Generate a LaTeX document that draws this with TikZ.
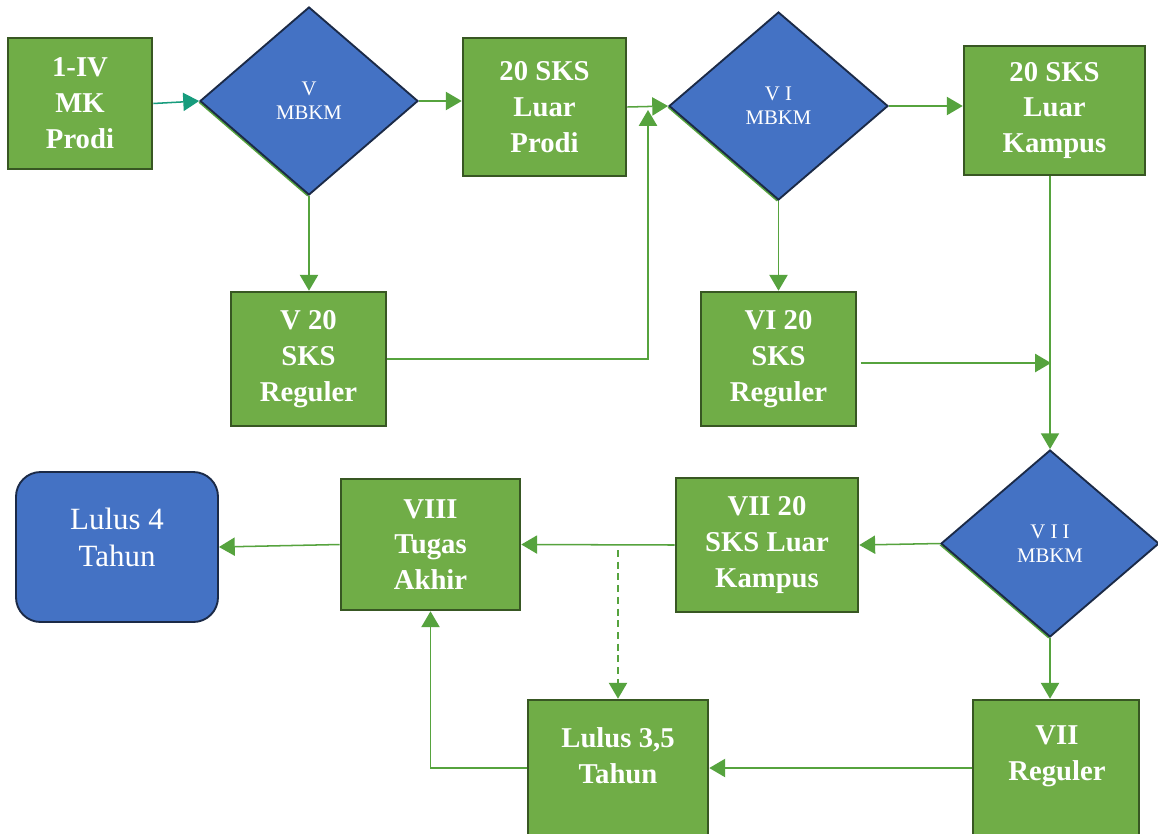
\documentclass[tikz,border=0pt]{standalone}
\usepackage{fontspec}
\setmainfont{Liberation Serif}
\usetikzlibrary{shapes.geometric,arrows.meta,shadows}
\definecolor{gfill}{HTML}{70AD47}
\definecolor{gline}{HTML}{385723}
\definecolor{bfill}{HTML}{4472C4}
\definecolor{bline}{HTML}{1B2A47}
\definecolor{lncol}{HTML}{56A33E}
\definecolor{tealcol}{HTML}{179C7D}
\tikzset{
  bsize/.style 2 args={minimum width=#1*0.03cm, minimum height=#2*0.03cm},
  gbox/.style={rectangle, draw=gline, line width=2.2pt, fill=gfill, text=white,
    font=\fontsize{24.5}{30.6}\selectfont\bfseries, align=center, inner sep=0pt},
  gtxt/.style={text=white, font=\fontsize{24.5}{30.6}\selectfont\bfseries, align=center, inner sep=0pt},
  dshape/.style={diamond, draw=bline, line width=1.6pt, fill=bfill, text=white,
    font=\fontsize{17.7}{20.4}\selectfont, align=center, inner sep=0pt,
    general shadow={fill=lncol, shadow xshift=-1.5pt, shadow yshift=-1.5pt}},
  lbox/.style={rectangle, rounded corners=21pt, draw=bline, line width=1.6pt, fill=bfill},
  ltxt/.style={text=white, font=\fontsize{26.4}{31.5}\selectfont, align=center, inner sep=0pt},
  conn/.style={draw=lncol, line width=1.3pt, -{Triangle[length=13.5pt,width=15.5pt]}},
}
\begin{document}
\begin{tikzpicture}[x=0.03cm,y=-0.03cm]
\clip (0,0) rectangle (1158,833);
\fill[white] (0,0) rectangle (1158,833);
% nodes
\node[gbox, bsize={144}{131}] (A) at (80,103.5) {1-IV\\MK\\Prodi};
\node[dshape, bsize={218}{188}] (D1) at (309,101) {V\\MBKM};
\node[gbox, bsize={163}{138}] (B) at (544.5,107) {20 SKS\\Luar\\Prodi};
\node[dshape, bsize={219}{188}] (D2) at (778.5,106) {V I\\MBKM};
\node[gbox, bsize={181}{129}] (C) at (1054.5,110.5) {20 SKS\\Luar\\Kampus};
\node[gbox, bsize={155}{134}] (E) at (308.5,359) {V 20\\SKS\\Reguler};
\node[gbox, bsize={155}{134}] (F) at (778.5,359) {VI 20\\SKS\\Reguler};
\node[dshape, bsize={218}{187}] (D3) at (1050,543.5) {V I I\\MBKM};
\node[gbox, bsize={182}{134}] (G) at (767,545) {VII 20\\SKS Luar\\Kampus};
\node[gbox, bsize={179}{131}] (H) at (430.5,544.5) {VIII\\Tugas\\Akhir};
\node[lbox, bsize={202}{150}] (I) at (117,547) {};
\node[ltxt] (It) at (117,537) {Lulus 4\\Tahun};
\node[gbox, bsize={180}{136}] (J) at (618,768) {};
\node[gtxt] (Jt) at (618,756) {Lulus 3,5\\Tahun};
\node[gbox, bsize={166}{136}] (K) at (1056,768) {};
\node[gtxt] (Kt) at (1057,756) {VII\\Reguler};
% coordinates
\coordinate (c1) at (648,110);
\coordinate (c2) at (1051,363);
\coordinate (c3) at (618,550);
% connectors
\draw[conn, draw=tealcol] (A.east) -- (D1.west);
\draw[conn] (D1.east) -- (D1.east -| B.west);
\draw[conn] (D1.south) -- (D1.south |- E.north);
\draw[conn] (B.east) -- (D2.west);
\draw[conn] (E.east) -| (c1);
\draw[conn] (D2.south) -- (D2.south |- F.north);
\draw[conn] (D2.east) -- (D2.east -| C.west);
\draw[conn] (C.south -| D3.north) -- (D3.north);
\draw[conn, shorten <=3pt] (F.east |- c2) -- (c2);
\draw[conn] (D3.west) -- (G.east);
\draw[conn] (G.west) -- (H.east);
\draw[conn, dash pattern=on 6pt off 4pt] (c3) -- (J.north);
\draw[conn] (H.west) -- (I.east);
\draw[conn] (D3.south) -- (D3.south |- K.north);
\draw[conn] (K.west) -- (J.east);
\draw[conn] (J.west) -| (H.south);
\end{tikzpicture}
\end{document}
